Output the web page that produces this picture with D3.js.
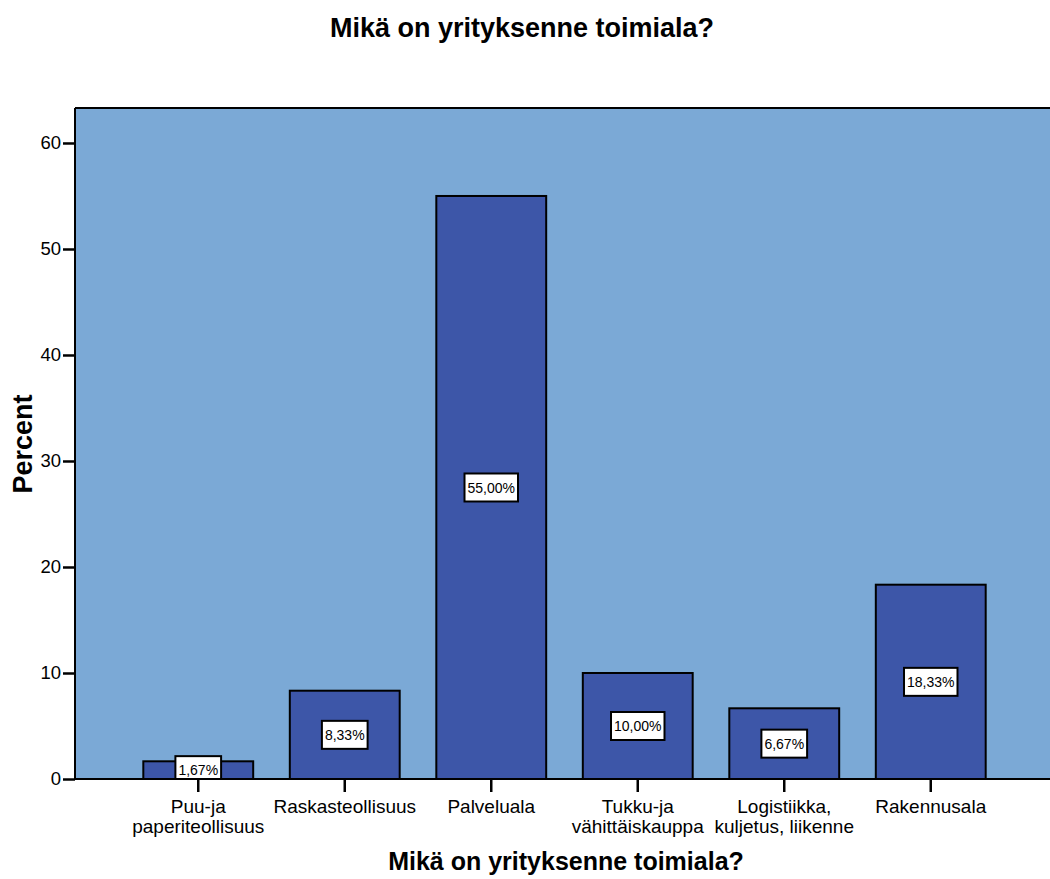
<!DOCTYPE html>
<html>
<head>
<meta charset="utf-8">
<script src="https://cdn.jsdelivr.net/npm/d3@7"></script>
<style>
  body { margin: 0; background: #fff; }
  svg { display: block; font-family: "Liberation Sans", Arial, sans-serif; }
</style>
</head>
<body>
<svg id="chart" width="1050" height="879"></svg>
<script>
// Industry categories (each label split into display lines)
const categories = [
  ["Puu-ja", "paperiteollisuus"],
  ["Raskasteollisuus"],
  ["Palveluala"],
  ["Tukku-ja", "vähittäiskauppa"],
  ["Logistiikka,", "kuljetus, liikenne"],
  ["Rakennusala"]
];
// Share of respondents, percent
const percents = [1.67, 8.33, 55.00, 10.00, 6.67, 18.33];
const yTicks = [0, 10, 20, 30, 40, 50, 60];

const svg = d3.select("#chart");
const plot = { left: 75, top: 108, right: 1052, bottom: 779 };

svg.append("defs").append("clipPath").attr("id", "plot-clip")
  .append("rect")
  .attr("x", plot.left).attr("y", plot.top)
  .attr("width", plot.right - plot.left).attr("height", plot.bottom - plot.top);

const keys = categories.map((c, i) => i);
const x = d3.scaleBand()
  .domain(keys)
  .range([125, 1004])
  .paddingInner(0.25)
  .paddingOuter(0.125);

const y = d3.scaleLinear()
  .domain([0, 63.3])
  .range([plot.bottom, plot.top]);

// Plot background
svg.append("rect")
  .attr("x", plot.left).attr("y", plot.top)
  .attr("width", plot.right - plot.left).attr("height", plot.bottom - plot.top)
  .attr("fill", "#7ba9d6");

// Top frame line
svg.append("line")
  .attr("x1", plot.left).attr("x2", plot.right)
  .attr("y1", plot.top).attr("y2", plot.top)
  .attr("stroke", "#000").attr("stroke-width", 2);

// Bars
svg.append("g").selectAll("rect")
  .data(percents)
  .join("rect")
  .attr("x", (d, i) => x(i))
  .attr("y", d => y(d))
  .attr("width", x.bandwidth())
  .attr("height", d => y(0) - y(d))
  .attr("fill", "#3d56a8")
  .attr("stroke", "#000")
  .attr("stroke-width", 2);

// Y axis
const yAxis = svg.append("g")
  .attr("transform", `translate(${plot.left},0)`)
  .call(d3.axisLeft(y).tickValues(yTicks).tickSize(12).tickPadding(2).tickFormat(d3.format("d")));
yAxis.select(".domain").attr("stroke", "#000").attr("stroke-width", 2)
  .attr("d", `M0,${plot.top}V${plot.bottom}`);
yAxis.selectAll(".tick line").attr("stroke", "#000").attr("stroke-width", 2.5);
yAxis.selectAll(".tick text")
  .attr("font-size", 18.5).attr("fill", "#000")
  .attr("font-family", "Liberation Sans, Arial, sans-serif");

// X axis
const xAxis = svg.append("g")
  .attr("transform", `translate(0,${plot.bottom})`)
  .call(d3.axisBottom(x).tickSize(13).tickFormat(""));
xAxis.select(".domain").attr("stroke", "#000").attr("stroke-width", 2)
  .attr("d", `M${plot.left},0H${plot.right}`);
xAxis.selectAll(".tick line").attr("stroke", "#000").attr("stroke-width", 2.5);

// Category labels, one tspan per line
const labels = svg.append("g").selectAll("text")
  .data(categories)
  .join("text")
  .attr("x", (d, i) => x(i) + x.bandwidth() / 2)
  .attr("y", 813)
  .attr("text-anchor", "middle")
  .attr("font-size", 19)
  .attr("fill", "#000");
labels.selectAll("tspan")
  .data(d => d)
  .join("tspan")
  .attr("x", function () { return d3.select(this.parentNode).attr("x"); })
  .attr("dy", (d, j) => j === 0 ? 0 : 20)
  .text(d => d);

// Value labels in white boxes at half bar height, kept inside the plot area
const fmt = v => v.toFixed(2).replace(".", ",") + "%";
const valG = svg.append("g")
  .attr("clip-path", "url(#plot-clip)")
  .selectAll("g")
  .data(percents)
  .join("g")
  .attr("transform", (d, i) => `translate(${x(i) + x.bandwidth() / 2},${y(d / 2)})`);
valG.append("text")
  .attr("text-anchor", "middle")
  .attr("dy", "0.36em")
  .attr("font-size", 14)
  .attr("fill", "#000")
  .text(fmt);
valG.each(function () {
  const g = d3.select(this);
  const bb = g.select("text").node().getBBox();
  g.insert("rect", "text")
    .attr("x", bb.x - 3).attr("y", -14)
    .attr("width", bb.width + 6).attr("height", 28)
    .attr("fill", "#fff")
    .attr("stroke", "#000")
    .attr("stroke-width", 2);
});
// Redraw baseline over the low label box
svg.append("line")
  .attr("x1", plot.left).attr("x2", plot.right)
  .attr("y1", plot.bottom).attr("y2", plot.bottom)
  .attr("stroke", "#000").attr("stroke-width", 2);

// Titles
svg.append("text")
  .attr("x", 522).attr("y", 37)
  .attr("text-anchor", "middle")
  .attr("font-size", 27).attr("font-weight", "bold")
  .text("Mikä on yrityksenne toimiala?");

svg.append("text")
  .attr("x", 566).attr("y", 870)
  .attr("text-anchor", "middle")
  .attr("font-size", 25).attr("font-weight", "bold")
  .text("Mikä on yrityksenne toimiala?");

svg.append("text")
  .attr("transform", "translate(32,444) rotate(-90)")
  .attr("text-anchor", "middle")
  .attr("font-size", 27).attr("font-weight", "bold")
  .text("Percent");
</script>
</body>
</html>
